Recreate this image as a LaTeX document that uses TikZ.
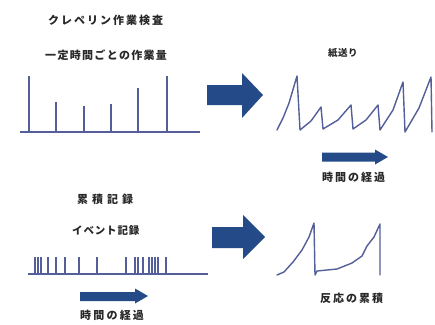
\documentclass[tikz,border=0pt]{standalone}
\usepackage{fontspec}
\newfontfamily\jp{Noto Sans CJK JP}
\definecolor{linec}{RGB}{84,94,152}
\definecolor{arrc}{RGB}{36,74,136}
\definecolor{txt}{RGB}{40,40,40}
\begin{document}
\begin{tikzpicture}[x=1pt,y=-1pt,
  lbl/.style={anchor=west,inner sep=0pt,text=txt},
  sig/.style={draw=linec,line width=1.6pt,line join=round},
  wave/.style={draw=linec,line width=1.4pt,line join=round,line cap=round},
  bigarrow/.style={fill=arrc}]
\useasboundingbox[fill=white] (0,0) rectangle (435,324);
% texts
\node[lbl,font=\jp\bfseries\addfontfeature{LetterSpace=18}\fontsize{11}{13}\selectfont] (t1) at (48,20) {クレペリン作業検査};
\node[lbl,font=\jp\bfseries\addfontfeature{LetterSpace=12}\fontsize{11}{13}\selectfont] (t2) at (45,55) {一定時間ごとの作業量};
\node[lbl,font=\jp\bfseries\addfontfeature{LetterSpace=5}\fontsize{9.5}{11}\selectfont] (t3) at (328,53) {紙送り};
\node[lbl,font=\jp\bfseries\addfontfeature{LetterSpace=18}\fontsize{11}{13}\selectfont] (t4) at (322,177) {時間の経過};
\node[lbl,font=\jp\bfseries\addfontfeature{LetterSpace=36}\fontsize{11}{13}\selectfont] (t5) at (77,199) {累積記録};
\node[lbl,font=\jp\bfseries\addfontfeature{LetterSpace=8}\fontsize{10.5}{12}\selectfont] (t6) at (72,231) {イベント記録};
\node[lbl,font=\jp\bfseries\addfontfeature{LetterSpace=20}\fontsize{11}{13}\selectfont] (t7) at (80,315) {時間の経過};
\node[lbl,font=\jp\bfseries\addfontfeature{LetterSpace=18}\fontsize{11}{13}\selectfont] (t8) at (320,298) {反応の累積};
% bar chart
\draw[sig] (20,132) -- (200,132);
\foreach \x/\h in {29/76,56/102,84/106,111/104,138/88,167/76}
  \draw[sig] (\x,132) -- (\x,\h);
% big arrows
\fill[bigarrow] (207,85) -- (242,85) -- (242,73) -- (263,95) -- (242,118) -- (242,105) -- (207,105) -- cycle;
\fill[bigarrow] (212,227) -- (243,227) -- (243,215) -- (265,237) -- (243,259) -- (243,248) -- (212,248) -- cycle;
% small arrows
\fill[bigarrow] (322,152.5) -- (375,152.5) -- (375,149.5) -- (388,157) -- (375,164.5) -- (375,161.5) -- (322,161.5) -- cycle;
\fill[bigarrow] (80,292) -- (135,292) -- (135,288.5) -- (148,296) -- (135,303.5) -- (135,301) -- (80,301) -- cycle;
% paper feed wave
\draw[wave] (277,130) -- (283,118) -- (289,103) -- (297,76) -- (300,130)
  -- (311,121) -- (321,107) -- (323,129)
  -- (338,120) -- (351,105) -- (353,129)
  -- (366,120) -- (378,105) -- (380,130)
  -- (393,110) -- (403,82) -- (405,132)
  -- (419,108) -- (431,77) -- (432,132);
% event record
\draw[sig,line width=1.3pt] (28,274) -- (208,274);
\foreach \x in {35,38,41,48,56,65,79,97,126,135,138,143,149,152,155,158,166}
  \draw[draw=linec,line width=1.3pt] (\x,274) -- (\x,257);
% cumulative
\draw[wave] (277,275) -- (284,272) -- (293,262) -- (302,250) -- (309,237) -- (314,223) -- (315,275)
  -- (317,271) -- (337,269) -- (352,263) -- (362,256) -- (367,246) -- (374,237) -- (380,224) -- (380,275);
\end{tikzpicture}
\end{document}
